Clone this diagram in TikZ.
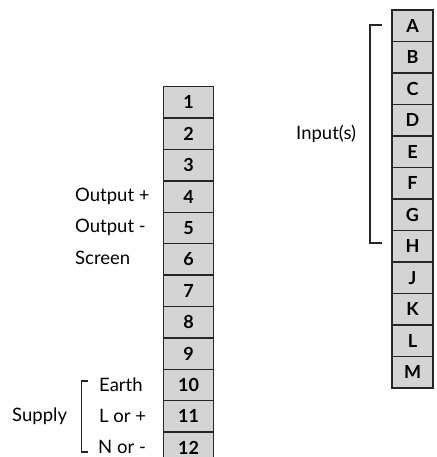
\documentclass[tikz,border=0pt]{standalone}
\usepackage{fontspec}
\setmainfont{Lato}
\begin{document}
\begin{tikzpicture}[x=1pt,y=-1pt,
  cell/.style={draw=black!85,line width=1.3pt,fill=black!17,minimum height=31.4pt,inner sep=0pt,
    font=\fontsize{18}{20}\selectfont\bfseries},
  lcell/.style={cell,minimum width=50pt},
  rcell/.style={cell,minimum width=41pt},
  lab/.style={anchor=west,inner sep=0pt,font=\fontsize{18.5}{21}\selectfont},
  brk/.style={line width=1.1pt,black!85}]
\path[use as bounding box,clip] (0,0) rectangle (436,457);
% left terminal column
\foreach \i in {1,...,12}{
  \node[lcell] (n\i) at (188.5,{86.7+(\i-0.5)*31.4}) {\i};
}
% right terminal column
\foreach \l [count=\i] in {A,B,C,D,E,F,G,H,J,K,L,M}{
  \node[rcell] (r\l) at (412.5,{10+(\i-0.5)*31.5}) {\l};
}
% labels
\node[lab] (o1) at (75,196) {Output +};
\node[lab] (o2) at (75,227) {Output -};
\node[lab] (scr) at (75,258) {Screen};
\node[lab] (earth) at (99,385) {Earth};
\node[lab] (lplus) at (99,416) {L or +};
\node[lab] (nminus) at (98,447) {N or -};
\node[lab] (supply) at (12,416) {Supply};
\node[lab] (inp) at (296,134) {Input(s)};
% brackets
\coordinate (s1) at (88,381);
\coordinate (s2) at (88,452);
\draw[brk] (s1) -| (81.5,416) |- (s2);
\coordinate (i1) at (382,25);
\coordinate (i2) at (382,243);
\draw[brk] (i1) -| (370,134) |- (i2);
\end{tikzpicture}
\end{document}
